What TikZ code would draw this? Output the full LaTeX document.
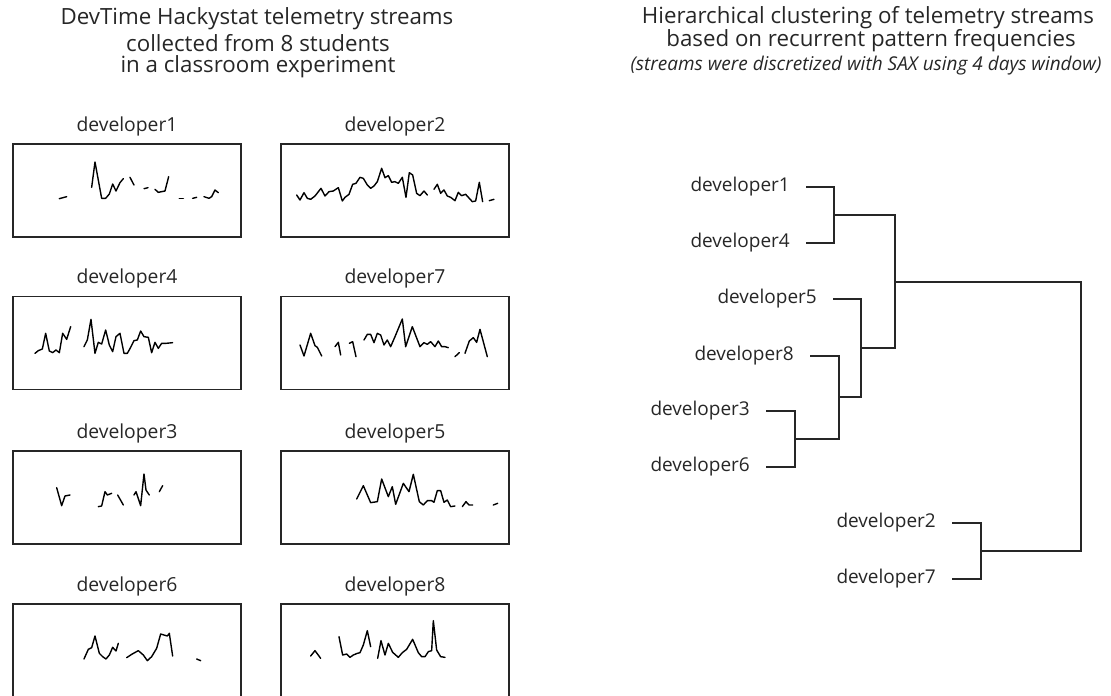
\documentclass[tikz,border=0pt]{standalone}
\usepackage{fontspec}
\setmainfont{Open Sans}
\begin{document}
\begin{tikzpicture}[x=1pt,y=-1pt,
  ink/.style={draw=black!85},
  box/.style={ink, line width=1.1pt, minimum width=228pt, minimum height=93pt, inner sep=0pt},
  boxlab/.style={font=\fontsize{19.3}{22}\selectfont, text=black!85, inner sep=0pt},
  title/.style={font=\fontsize{22.3}{26}\selectfont, text=black!85, inner sep=0pt},
  note/.style={font=\fontsize{19}{22}\selectfont\itshape, text=black!85, inner sep=0pt},
  leaf/.style={font=\fontsize{19}{22}\selectfont, text=black!85, anchor=east, inner sep=0pt},
  spark/.style={draw=black, line width=1.4pt, line join=round, line cap=round},
  tree/.style={ink, line width=1.1pt}
]
\useasboundingbox (0,0) rectangle (1111,696);

% ---------- titles ----------
\node[title] (tl1) at (257,19) {DevTime Hackystat telemetry streams};
\node[title] (tl2) at (258,43) {collected from 8 students};
\node[title] (tl3) at (258,67) {in a classroom experiment};
\node[title] (tr1) at (868,18) {Hierarchical clustering of telemetry streams};
\node[title] (tr2) at (871,41) {based on recurrent pattern frequencies};
\node[note]  (tr3) at (866,66) {(streams were discretized with SAX using 4 days window)};

% ---------- stream boxes ----------
\node[box] (b1) at (127,190.5) {};
\node[box] (b2) at (395,190.5) {};
\node[box] (b4) at (127,343) {};
\node[box] (b7) at (395,343) {};
\node[box] (b3) at (127,497.5) {};
\node[box] (b5) at (395,497.5) {};
\node[box] (b6) at (127,650.5) {};
\node[box] (b8) at (395,650.5) {};

\node[boxlab] (l1) at (127,126) {developer1};
\node[boxlab] (l2) at (395,126) {developer2};
\node[boxlab] (l4) at (127,278) {developer4};
\node[boxlab] (l7) at (395,278) {developer7};
\node[boxlab] (l3) at (127,433) {developer3};
\node[boxlab] (l5) at (395,433) {developer5};
\node[boxlab] (l6) at (127,586) {developer6};
\node[boxlab] (l8) at (395,586) {developer8};

% ---------- telemetry sparklines (local units are 1/3 px) ----------
% developer1
\begin{scope}[shift={(10,140)}, scale=0.3333]
  \draw[spark] (148,176) -- (170,170);
  \draw[spark] (245,142) -- (255,66) -- (275,175) -- (287,175) -- (298,162) -- (308,132) -- (318,153) -- (330,128) -- (340,116);
  \draw[spark] (360,112) -- (372,135);
  \draw[spark] (402,146) -- (414,143);
  \draw[spark] (435,148) -- (445,157) -- (465,153) -- (476,110);
  \draw[spark] (508,175) -- (520,175);
  \draw[spark] (548,175) -- (560,172);
  \draw[spark] (582,170) -- (597,175) -- (605,170) -- (615,150) -- (625,158);
\end{scope}
% developer2
\begin{scope}[shift={(270,140)}, scale=0.3333]
  \draw[spark] (80,165) -- (90,180) -- (102,158) -- (112,175) -- (122,178) -- (135,168) -- (153,145) -- (165,168) -- (177,155) -- (190,153) -- (205,143) -- (217,183) -- (225,172) -- (237,163) -- (248,133) -- (258,130) -- (270,112) -- (280,115) -- (292,135) -- (302,145) -- (312,138) -- (322,125) -- (335,85) -- (345,113) -- (355,107) -- (365,127) -- (375,125) -- (385,130) -- (397,112) -- (408,172) -- (418,98) -- (428,105) -- (440,160) -- (450,167) -- (462,153) -- (472,165);
  \draw[spark] (492,148) -- (502,133) -- (512,160) -- (522,150) -- (532,168) -- (542,172) -- (555,182) -- (565,157) -- (575,167) -- (587,163) -- (607,185) -- (617,183) -- (628,127) -- (638,185);
  \draw[spark] (658,182) -- (672,178);
\end{scope}
% developer4
\begin{scope}[shift={(10,290)}, scale=0.3333]
  \draw[spark] (75,190) -- (85,182) -- (97,177) -- (107,130) -- (118,183) -- (128,188) -- (138,180) -- (148,188) -- (158,130) -- (170,148) -- (182,110);
  \draw[spark] (222,170) -- (232,150) -- (243,88) -- (255,190) -- (265,157) -- (275,162) -- (287,120) -- (298,165) -- (308,185) -- (318,140) -- (330,130) -- (342,190) -- (352,190) -- (362,172) -- (372,152) -- (382,150) -- (392,123) -- (402,140) -- (415,142) -- (425,188) -- (435,157) -- (445,175) -- (455,160) -- (468,160) -- (488,158);
\end{scope}
% developer7
\begin{scope}[shift={(270,290)}, scale=0.3333]
  \draw[spark] (90,165) -- (102,198) -- (122,130) -- (135,167) -- (142,172) -- (155,198);
  \draw[spark] (195,170) -- (205,157) -- (212,195);
  \draw[spark] (238,160) -- (248,155) -- (258,200);
  \draw[spark] (282,150) -- (292,133) -- (302,133) -- (312,158) -- (322,130) -- (332,135) -- (342,165) -- (352,150) -- (362,170) -- (375,140) -- (397,87) -- (407,170) -- (427,110) -- (450,170) -- (462,158) -- (472,163) -- (482,155) -- (495,170) -- (505,153) -- (515,170) -- (525,170) -- (535,173);
  \draw[spark] (555,200) -- (568,188);
  \draw[spark] (585,190) -- (598,153) -- (610,143) -- (620,157) -- (630,118) -- (652,200);
\end{scope}
% developer3
\begin{scope}[shift={(10,445)}, scale=0.3333]
  \draw[spark] (140,128) -- (155,182) -- (165,153) -- (180,150);
  \draw[spark] (265,185) -- (275,183) -- (285,140) -- (292,150) -- (305,145);
  \draw[spark] (323,150) -- (340,180);
  \draw[spark] (372,150) -- (378,140) -- (392,182) -- (402,87) -- (408,135) -- (418,150);
  \draw[spark] (448,140) -- (458,122);
\end{scope}
% developer5
\begin{scope}[shift={(270,445)}, scale=0.3333]
  \draw[spark] (260,162) -- (280,122) -- (302,173) -- (322,170) -- (335,102) -- (355,155) -- (367,125) -- (377,178) -- (400,115) -- (417,140) -- (430,88) -- (448,170) -- (460,180) -- (472,167) -- (485,167) -- (492,172) -- (502,137) -- (512,137) -- (522,172) -- (532,165) -- (542,185) -- (555,183);
  \draw[spark] (577,185) -- (588,170) -- (597,180) -- (608,180);
  \draw[spark] (670,180) -- (683,175);
\end{scope}
% developer6
\begin{scope}[shift={(10,590)}, scale=0.3333]
  \draw[spark] (222,207) -- (235,178) -- (245,173) -- (255,138) -- (268,190) -- (278,200) -- (288,207) -- (298,195) -- (308,172) -- (318,183) -- (325,160);
  \draw[spark] (350,203) -- (365,193) -- (385,182) -- (400,195) -- (412,212) -- (425,200) -- (440,175) -- (452,132) -- (462,135) -- (472,138) -- (478,130) -- (488,198);
  \draw[spark] (560,207) -- (572,212);
\end{scope}
% developer8
\begin{scope}[shift={(270,590)}, scale=0.3333]
  \draw[spark] (122,198) -- (135,182) -- (152,205);
  \draw[spark] (207,140) -- (218,195) -- (230,192) -- (240,202) -- (250,195) -- (262,190) -- (270,188) -- (280,165) -- (292,122) -- (302,170);
  \draw[spark] (323,205) -- (333,152) -- (345,195) -- (355,160) -- (368,187) -- (385,202) -- (397,188) -- (410,178) -- (428,148) -- (445,188) -- (455,200) -- (465,200) -- (475,185) -- (485,182) -- (490,92) -- (500,180) -- (512,200) -- (525,202);
\end{scope}

% ---------- dendrogram ----------
\node[leaf] (d1) at (790,187) {developer1};
\node[leaf] (d4) at (790,243) {developer4};
\node[leaf] (d5) at (817,299) {developer5};
\node[leaf] (d8) at (794,356) {developer8};
\node[leaf] (d3) at (750,411) {developer3};
\node[leaf] (d6) at (750,467) {developer6};
\node[leaf] (d2) at (936,523) {developer2};
\node[leaf] (d7) at (936,579) {developer7};

\coordinate (j14)  at (834,215);
\coordinate (j36)  at (795,439);
\coordinate (j836) at (839,397);
\coordinate (j58)  at (861,348);
\coordinate (jA)   at (895,282);
\coordinate (j27)  at (981,551);
\coordinate (jR)   at (1081,416);

\draw[tree] ([xshift=16pt]d1.east) -| (j14);
\draw[tree] ([xshift=16pt]d4.east) -| (j14);
\draw[tree] ([xshift=16pt]d3.east) -| (j36);
\draw[tree] ([xshift=16pt]d6.east) -| (j36);
\draw[tree] ([xshift=16pt]d8.east) -| (j836);
\draw[tree] (j36) -| (j836);
\draw[tree] ([xshift=16pt]d5.east) -| (j58);
\draw[tree] (j836) -| (j58);
\draw[tree] (j14) -| (jA);
\draw[tree] (j58) -| (jA);
\draw[tree] ([xshift=16pt]d2.east) -| (j27);
\draw[tree] ([xshift=16pt]d7.east) -| (j27);
\draw[tree] (jA) -| (jR);
\draw[tree] (j27) -| (jR);
\end{tikzpicture}
\end{document}
